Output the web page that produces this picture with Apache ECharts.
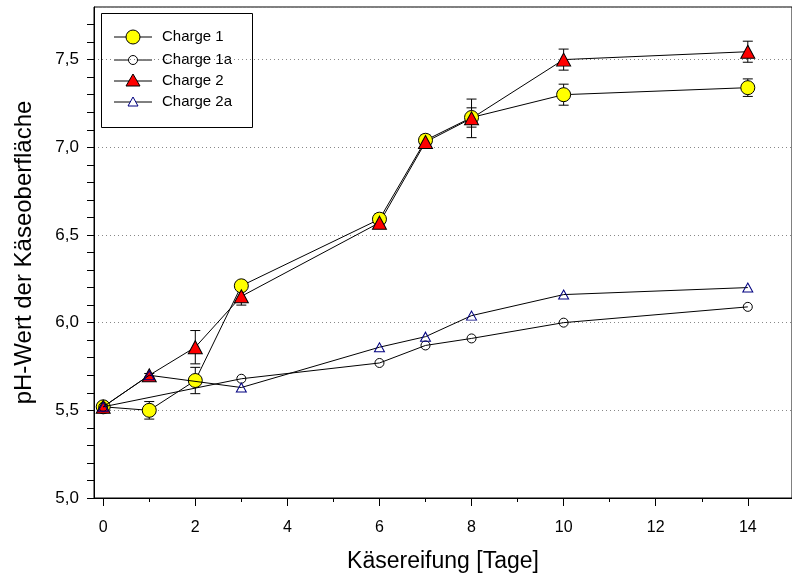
<!DOCTYPE html>
<html><head><meta charset="utf-8">
<script src="https://cdn.jsdelivr.net/npm/echarts@6/dist/echarts.min.js"></script>
<style>html,body{margin:0;padding:0;background:#fff}#c{width:792px;height:585px}</style>
</head><body><div id="c"></div>
<script>
const days = [0, 1, 2, 3, 6, 7, 8, 10, 14];
const charge1 = [5.52, 5.50, 5.67, 6.21, 6.59, 7.04, 7.17, 7.30, 7.34];
const charge1Err = [0.01, 0.05, 0.075, 0.02, 0.03, 0.03, 0.055, 0.06, 0.05];
const charge1a = [5.52, null, null, 5.68, 5.77, 5.87, 5.91, 6.00, 6.09];
const charge2 = [5.52, 5.70, 5.86, 6.15, 6.57, 7.03, 7.165, 7.50, 7.545];
const charge2Err = [0.01, 0.01, 0.095, 0.05, 0.03, 0.03, 0.11, 0.06, 0.06];
const charge2a = [5.52, 5.70, null, 5.63, 5.86, 5.92, 6.04, 6.16, 6.20];
const seriesNames = ['Charge 1', 'Charge 1a', 'Charge 2', 'Charge 2a'];
const xTickLabels = [0, 2, 4, 6, 8, 10, 12, 14];
const xMinorTicks = [1, 3, 5, 7, 9, 11, 13];
const yTickLabels = [5.0, 5.5, 6.0, 6.5, 7.0, 7.5];
const yMinorTicks = [5.0,5.1,5.2,5.3,5.4,5.5,5.6,5.7,5.8,5.9,6.0,6.1,6.2,6.3,6.4,6.5,6.6,6.7,6.8,6.9,7.0,7.1,7.2,7.3,7.4,7.5,7.6,7.7];

const FONT = '"Liberation Sans", Arial, sans-serif';
const pairs = (ys) => days.map((d, i) => [d, ys[i]]).filter(p => p[1] != null);
const errPairs = (ys, es) => days.map((d, i) => [d, ys[i], es[i]]);

const X_MIN = -0.2, X_MAX = 14.96;

function errRender(params, api) {
  const x = api.value(0), y = api.value(1), e = api.value(2);
  const top = api.coord([x, y + e]);
  const bot = api.coord([x, y - e]);
  const hw = 5;
  const st = { stroke: '#000', lineWidth: 1 };
  return { type: 'group', children: [
    { type: 'line', shape: { x1: top[0], y1: top[1], x2: bot[0], y2: bot[1] }, style: st },
    { type: 'line', shape: { x1: top[0] - hw, y1: top[1], x2: top[0] + hw, y2: top[1] }, style: st },
    { type: 'line', shape: { x1: bot[0] - hw, y1: bot[1], x2: bot[0] + hw, y2: bot[1] }, style: st }
  ]};
}

const chart = echarts.init(document.getElementById('c'), null, { renderer: 'canvas' });

// legend graphics
const legX = 101, legY = 13, legW = 151, legH = 114;
const rowY = [37, 60, 81, 102];
const lineX1 = 114, lineX2 = 152, markX = 133, textX = 162;
const legendChildren = [
  { type: 'rect', shape: { x: legX + 0.5, y: legY + 0.5, width: legW, height: legH }, style: { fill: '#fff', stroke: '#000', lineWidth: 1 } }
];
rowY.forEach((y, i) => {
  legendChildren.push({ type: 'line', shape: { x1: lineX1, y1: y, x2: lineX2, y2: y }, style: { stroke: '#000', lineWidth: 1 } });
  legendChildren.push({ type: 'text', style: { x: textX, y: y, text: seriesNames[i], font: '15px ' + FONT, fill: '#000', verticalAlign: 'middle' } });
});
legendChildren.push({ type: 'circle', shape: { cx: markX, cy: rowY[0], r: 7 }, style: { fill: '#ffff00', stroke: '#000', lineWidth: 1 } });
legendChildren.push({ type: 'circle', shape: { cx: markX, cy: rowY[1], r: 4.5 }, style: { fill: '#fff', stroke: '#000', lineWidth: 1 } });
legendChildren.push({ type: 'polygon', shape: { points: [[markX, rowY[2] - 7], [markX + 7, rowY[2] + 5], [markX - 7, rowY[2] + 5]] }, style: { fill: '#ff0000', stroke: '#000', lineWidth: 1 } });
legendChildren.push({ type: 'polygon', shape: { points: [[markX, rowY[3] - 5], [markX + 5, rowY[3] + 4], [markX - 5, rowY[3] + 4]] }, style: { fill: '#fff', stroke: '#000080', lineWidth: 1 } });

const option = {
  animation: false,
  backgroundColor: '#fff',
  grid: { left: 94, top: 7, right: -3, bottom: 87, show: true, borderColor: '#000', borderWidth: 1, backgroundColor: 'transparent' },
  xAxis: [
    {
      type: 'value', min: X_MIN, max: X_MAX, position: 'bottom',
      name: 'Käsereifung [Tage]', nameLocation: 'middle', nameGap: 52,
      nameTextStyle: { fontFamily: FONT, fontSize: 23, color: '#000' },
      axisLine: { show: true, onZero: false, lineStyle: { color: '#000', width: 1 } },
      axisTick: { show: true, length: 8, customValues: xTickLabels, lineStyle: { color: '#000' } },
      axisLabel: { show: true, customValues: xTickLabels, margin: 22, fontFamily: FONT, fontSize: 16, color: '#000' },
      splitLine: { show: false }
    },
    {
      type: 'value', min: X_MIN, max: X_MAX, position: 'bottom',
      axisLine: { show: false, onZero: false },
      axisTick: { show: true, length: 4, customValues: xMinorTicks, lineStyle: { color: '#000' } },
      axisLabel: { show: false },
      splitLine: { show: false }
    }
  ],
  yAxis: [
    {
      type: 'value', min: 5.0, max: 7.8,
      name: 'pH-Wert der Käseoberfläche', nameLocation: 'middle', nameGap: 58,
      nameTextStyle: { fontFamily: FONT, fontSize: 24, color: '#000' },
      axisLine: { show: true, onZero: false, lineStyle: { color: '#000', width: 1 } },
      axisTick: { show: true, length: 7, customValues: yMinorTicks, lineStyle: { color: '#000' } },
      axisLabel: { show: true, customValues: yTickLabels, margin: 15, fontFamily: FONT, fontSize: 17, color: '#000',
        formatter: v => v.toFixed(1).replace('.', ',') },
      splitLine: { show: false }
    },
    {
      type: 'value', min: 5.0, max: 7.8, interval: 0.5,
      axisLine: { show: false }, axisTick: { show: false }, axisLabel: { show: false },
      splitLine: { show: true, lineStyle: { color: '#888', type: [1, 3], width: 1 } }
    }
  ],
  graphic: [{ type: 'group', z: 100, children: legendChildren }],
  series: [
    { name: 'Charge 1 err', type: 'custom', renderItem: errRender, data: errPairs(charge1, charge1Err), encode: { x: 0, y: 1 }, z: 2, silent: true },
    { name: 'Charge 2 err', type: 'custom', renderItem: errRender, data: errPairs(charge2, charge2Err), encode: { x: 0, y: 1 }, z: 2, silent: true },
    { name: seriesNames[0], type: 'line', data: pairs(charge1), symbol: 'circle', symbolSize: 14, z: 3,
      itemStyle: { color: '#ffff00', borderColor: '#000', borderWidth: 1 }, lineStyle: { color: '#000', width: 1 } },
    { name: seriesNames[2], type: 'line', data: pairs(charge2), symbol: 'triangle', symbolSize: [14, 13], z: 3,
      itemStyle: { color: '#ff0000', borderColor: '#000', borderWidth: 1 }, lineStyle: { color: '#000', width: 1 } },
    { name: seriesNames[1], type: 'line', data: pairs(charge1a), symbol: 'circle', symbolSize: 9, z: 4,
      itemStyle: { color: 'rgba(255,255,255,0)', borderColor: '#000', borderWidth: 1 }, lineStyle: { color: '#000', width: 1 } },
    { name: seriesNames[3], type: 'line', data: pairs(charge2a), symbol: 'triangle', symbolSize: [10, 9], z: 4,
      itemStyle: { color: 'rgba(255,255,255,0)', borderColor: '#000080', borderWidth: 1 }, lineStyle: { color: '#000', width: 1 } }
  ]
};
chart.setOption(option);
</script>
</body></html>
